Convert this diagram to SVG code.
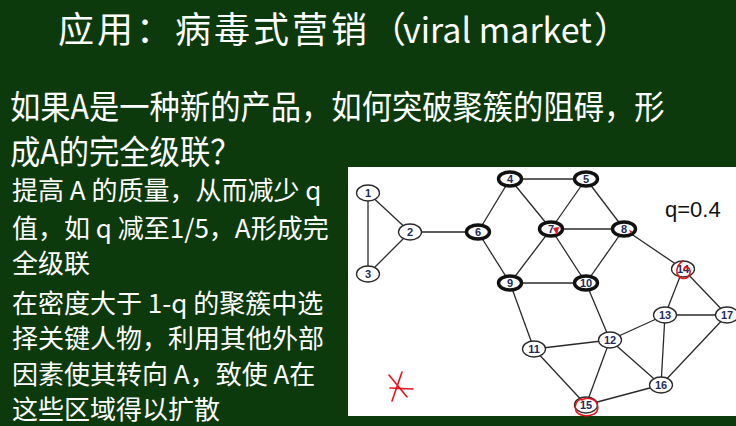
<svg xmlns="http://www.w3.org/2000/svg" width="736" height="426" viewBox="0 0 736 426">
  <style>
    .cn { font-family: "Noto Sans CJK SC", "Liberation Sans", sans-serif; fill: #ffffff; }
    .edge { stroke: #2a2a2a; stroke-width: 1.3; fill: none; }
    .node ellipse { fill: #ffffff; stroke: #2a2a2a; stroke-width: 1.3; }
    .node.hub ellipse { stroke: #111111; stroke-width: 3.4; }
    .node text { font-family: "Liberation Sans", Arial, sans-serif; font-size: 11px; font-weight: bold; fill: #1e2b5c; text-anchor: middle; dominant-baseline: central; }
    .ink { stroke: #e8141c; stroke-width: 1.6; fill: none; stroke-linecap: round; stroke-linejoin: round; }
  </style>

  <!-- chalkboard background -->
  <rect x="0" y="0" width="736" height="426" fill="#0d3a0d"/>

  <!-- title -->
  <text class="cn" y="43" font-size="36">
    <tspan x="58" letter-spacing="3">应用：病毒式营销</tspan><tspan x="370">（</tspan><tspan x="403" font-size="34">viral market</tspan><tspan x="594">）</tspan>
  </text>

  <!-- question -->
  <g class="cn" font-size="30.3">
    <text transform="translate(10,119) scale(1,1.1)">如果A是一种新的产品，如何突破聚簇的阻碍，形</text>
    <text transform="translate(10,164) scale(1,1.1)">成A的完全级联？</text>
  </g>

  <!-- strategies -->
  <g class="cn" font-size="26">
    <text x="12" y="200">提高 A 的质量，从而减少 q</text>
    <text x="12" y="238">值，如 q 减至1/5，A形成完</text>
    <text x="12" y="273">全级联</text>
    <text x="12" y="313">在密度大于 1-q 的聚簇中选</text>
    <text x="12" y="348">择关键人物，利用其他外部</text>
    <text x="12" y="384">因素使其转向 A，致使 A在</text>
    <text x="12" y="419">这些区域得以扩散</text>
  </g>

  <!-- network panel -->
  <rect x="348" y="167" width="388" height="249" fill="#ffffff"/>
  <text x="665" y="217" font-family="'Liberation Sans', Arial, sans-serif" font-size="22" fill="#111111">q=0.4</text>

  <g id="connectors">
    <line class="edge" x1="368" y1="193" x2="410" y2="232"/>
    <line class="edge" x1="368" y1="193" x2="368" y2="274"/>
    <line class="edge" x1="410" y1="232" x2="368" y2="274"/>
    <line class="edge" x1="410" y1="232" x2="478" y2="232"/>
    <line class="edge" x1="478" y1="232" x2="510" y2="179"/>
    <line class="edge" x1="478" y1="232" x2="510" y2="283"/>
    <line class="edge" x1="510" y1="179" x2="586" y2="179"/>
    <line class="edge" x1="510" y1="179" x2="551" y2="229"/>
    <line class="edge" x1="586" y1="179" x2="551" y2="229"/>
    <line class="edge" x1="586" y1="179" x2="624" y2="229"/>
    <line class="edge" x1="551" y1="229" x2="624" y2="229"/>
    <line class="edge" x1="551" y1="229" x2="510" y2="283"/>
    <line class="edge" x1="551" y1="229" x2="586" y2="283"/>
    <line class="edge" x1="624" y1="229" x2="586" y2="283"/>
    <line class="edge" x1="510" y1="283" x2="586" y2="283"/>
    <line class="edge" x1="624" y1="229" x2="683" y2="269"/>
    <line class="edge" x1="510" y1="283" x2="534" y2="349"/>
    <line class="edge" x1="586" y1="283" x2="610" y2="340"/>
    <line class="edge" x1="534" y1="349" x2="610" y2="340"/>
    <line class="edge" x1="534" y1="349" x2="586" y2="405"/>
    <line class="edge" x1="610" y1="340" x2="665" y2="315"/>
    <line class="edge" x1="610" y1="340" x2="586" y2="405"/>
    <line class="edge" x1="610" y1="340" x2="661" y2="385"/>
    <line class="edge" x1="665" y1="315" x2="683" y2="269"/>
    <line class="edge" x1="665" y1="315" x2="727" y2="315"/>
    <line class="edge" x1="665" y1="315" x2="661" y2="385"/>
    <line class="edge" x1="683" y1="269" x2="727" y2="315"/>
    <line class="edge" x1="727" y1="315" x2="661" y2="385"/>
    <line class="edge" x1="586" y1="405" x2="661" y2="385"/>
  </g>

  <g id="n1" class="node"><ellipse cx="368" cy="193" rx="11.5" ry="8"/><text x="368" y="193">1</text></g>
  <g id="n2" class="node"><ellipse cx="410" cy="232" rx="11.5" ry="8"/><text x="410" y="232">2</text></g>
  <g id="n3" class="node"><ellipse cx="368" cy="274" rx="11.5" ry="8"/><text x="368" y="274">3</text></g>
  <g id="n4" class="node hub"><ellipse cx="510" cy="179" rx="11.5" ry="7"/><text x="510" y="179">4</text></g>
  <g id="n5" class="node hub"><ellipse cx="586" cy="179" rx="11.5" ry="7"/><text x="586" y="179">5</text></g>
  <g id="n6" class="node hub"><ellipse cx="478" cy="232" rx="11.5" ry="7"/><text x="478" y="232">6</text></g>
  <g id="n7" class="node hub"><ellipse cx="551" cy="229" rx="11.5" ry="7"/><text x="551" y="229">7</text></g>
  <g id="n8" class="node hub"><ellipse cx="624" cy="229" rx="11.5" ry="7"/><text x="624" y="229">8</text></g>
  <g id="n9" class="node hub"><ellipse cx="510" cy="283" rx="11.5" ry="7"/><text x="510" y="283">9</text></g>
  <g id="n10" class="node hub"><ellipse cx="586" cy="283" rx="11.5" ry="7"/><text x="586" y="283">10</text></g>
  <g id="n11" class="node"><ellipse cx="534" cy="349" rx="11.5" ry="8"/><text x="534" y="349">11</text></g>
  <g id="n12" class="node"><ellipse cx="610" cy="340" rx="11.5" ry="8"/><text x="610" y="340">12</text></g>
  <g id="n13" class="node"><ellipse cx="665" cy="315" rx="11.5" ry="8"/><text x="665" y="315">13</text></g>
  <g id="n14" class="node"><ellipse cx="683" cy="269" rx="11.5" ry="8"/><text x="683" y="269">14</text></g>
  <g id="n15" class="node"><ellipse cx="586" cy="405" rx="11.5" ry="8"/><text x="586" y="405">15</text></g>
  <g id="n16" class="node"><ellipse cx="661" cy="385" rx="11.5" ry="8"/><text x="661" y="385">16</text></g>
  <g id="n17" class="node"><ellipse cx="727" cy="315" rx="11.5" ry="8"/><text x="727" y="315">17</text></g>

  <!-- red pen marks -->
  <g id="annotations">
    <path class="ink" d="M683,261 c-4,2 -7,7 -6,12 c1,5 7,7 11,4 c3,-3 3,-8 -1,-10 c-2,-1 -3,1 -3,3"/>
    <path class="ink" d="M582,399 c-6,1 -8,7 -6,12 c3,5 12,6 18,3 c5,-3 5,-10 0,-14 c-4,-2 -9,-2 -12,0"/>
    <path class="ink" d="M389,375 L407,397 M402,372 L392,401 M390,388 L413,389"/>
    <path d="M553,228 L559,227 L557,235 Z" fill="#e8141c"/>
    <path d="M629,230 L632,231 L631,234 Z" fill="#e8141c"/>
  </g>
</svg>
